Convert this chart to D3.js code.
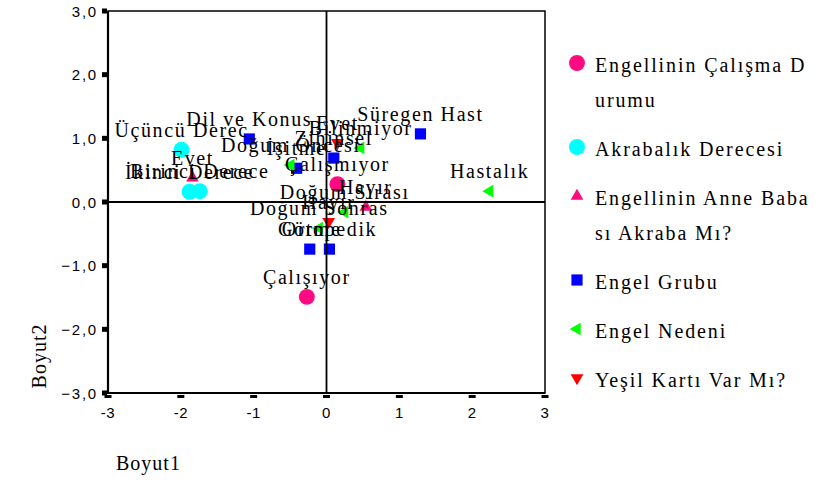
<!DOCTYPE html>
<html>
<head>
<meta charset="utf-8">
<script src="https://cdn.jsdelivr.net/npm/d3@7"></script>
<style>
  html, body { margin: 0; padding: 0; background: #fff; }
  svg { display: block; }
</style>
</head>
<body>
<svg id="chart" width="825" height="482"></svg>
<script>
// ——— Data (object scores, Boyut1 / Boyut2) ———
const calismaLabels = ['Çalışıyor', 'Çalışmıyor'];
const calismaX = [-0.27, 0.15];
const calismaY = [-1.49, 0.28];

const akrabalikLabels = ['Üçüncü Derec', 'İkinci Derece', 'Birinci Derece'];
const akrabalikX = [-1.99, -1.88, -1.74];
const akrabalikY = [0.82, 0.16, 0.17];

const anneBabaLabels = ['Evet', 'Hayır'];
const anneBabaX = [-1.84, 0.54];
const anneBabaY = [0.38, -0.08];

const grupLabels = ['Dil ve Konus', 'İşitme', 'Zihinsel', 'Süregen Hast', 'Görme', 'Ortopedik'];
const grupX = [-1.06, -0.41, 0.10, 1.29, -0.23, 0.04];
const grupY = [0.99, 0.53, 0.69, 1.07, -0.74, -0.74];

const nedenLabels = ['Doğum Öncesi', 'Bilinmiyor', 'Doğum Sırası', 'Doğum Sonras', 'Hastalık'];
const nedenX = [-0.49, 0.47, 0.25, -0.10, 2.24];
const nedenY = [0.58, 0.85, -0.16, -0.41, 0.17];

const yesilLabels = ['Evet', 'Hayır'];
const yesilX = [0.15, 0.03];
const yesilY = [0.93, -0.31];

const xTicks = [-3, -2, -1, 0, 1, 2, 3];
const yTicks = [-3, -2, -1, 0, 1, 2, 3];

const legendLines = [
    ['Engellinin Çalışma D', 'urumu'],
    ['Akrabalık Derecesi'],
    ['Engellinin Anne Baba', 'sı Akraba Mı?'],
    ['Engel Grubu'],
    ['Engel Nedeni'],
    ['Yeşil Kartı Var Mı?']
];

// ——— Series setup ———
const series = [
    { labels: calismaLabels, xs: calismaX, ys: calismaY, shape: 'circle', color: '#ff0a80' },
    { labels: akrabalikLabels, xs: akrabalikX, ys: akrabalikY, shape: 'circle', color: '#00ffff' },
    { labels: anneBabaLabels, xs: anneBabaX, ys: anneBabaY, shape: 'up', color: '#ff0a80' },
    { labels: grupLabels, xs: grupX, ys: grupY, shape: 'square', color: '#0000ff' },
    { labels: nedenLabels, xs: nedenX, ys: nedenY, shape: 'left', color: '#00ff00' },
    { labels: yesilLabels, xs: yesilX, ys: yesilY, shape: 'down', color: '#ff0000' }
];

const svg = d3.select('#chart');
const serif = '"Liberation Serif", "Times New Roman", serif';
const sans = '"Liberation Sans", Arial, sans-serif';

const x = d3.scaleLinear().domain([-3, 3]).range([108, 545]);
const y = d3.scaleLinear().domain([-3, 3]).range([393, 11]);

function symbolPath(shape) {
    if (shape === 'circle') return d3.symbol(d3.symbolCircle, 200)();
    if (shape === 'square') return d3.symbol(d3.symbolSquare, 125)();
    return d3.symbol(d3.symbolTriangle, 70)();
}
function symbolRotate(shape) {
    if (shape === 'down') return 180;
    if (shape === 'left') return -90;
    return 0;
}

// ——— Frame ———
svg.append('rect')
    .attr('x', x(-3)).attr('y', y(3))
    .attr('width', x(3) - x(-3)).attr('height', y(-3) - y(3))
    .attr('fill', 'none').attr('stroke', '#000').attr('stroke-width', 1.5);

// ——— Markers ———
const points = series.flatMap(s => s.labels.map((lab, i) => ({
    label: lab, vx: s.xs[i], vy: s.ys[i], shape: s.shape, color: s.color
})));

svg.append('g')
    .selectAll('path')
    .data(points)
    .join('path')
    .attr('d', d => symbolPath(d.shape))
    .attr('transform', d => `translate(${x(d.vx)},${y(d.vy)}) rotate(${symbolRotate(d.shape)})`)
    .attr('fill', d => d.color);

// ——— Reference lines at 0 ———
svg.append('line')
    .attr('x1', x(0)).attr('x2', x(0)).attr('y1', y(3)).attr('y2', y(-3))
    .attr('stroke', '#000').attr('stroke-width', 1.8);
svg.append('line')
    .attr('x1', x(-3)).attr('x2', x(3)).attr('y1', y(0)).attr('y2', y(0))
    .attr('stroke', '#000').attr('stroke-width', 1.8);

// ——— Axes ———
svg.append('line')
    .attr('x1', x(-3)).attr('x2', x(-3)).attr('y1', y(3)).attr('y2', y(-3) + 1)
    .attr('stroke', '#000').attr('stroke-width', 2.2);
svg.append('line')
    .attr('x1', x(-3) - 1).attr('x2', x(3)).attr('y1', y(-3)).attr('y2', y(-3))
    .attr('stroke', '#000').attr('stroke-width', 2.2);

// y ticks
const yt = svg.append('g');
yt.selectAll('rect')
    .data(yTicks)
    .join('rect')
    .attr('x', x(-3) - 6).attr('y', d => y(d) - 2.5)
    .attr('width', 5).attr('height', 5)
    .attr('fill', '#000');
yt.selectAll('text')
    .data(yTicks)
    .join('text')
    .attr('x', x(-3) - 10).attr('y', d => y(d) + 5.5)
    .attr('text-anchor', 'end')
    .attr('font-family', sans).attr('font-size', '15px')
    .attr('letter-spacing', '1.8px')
    .text(d => d3.format('.1f')(d).replace('.', ','));

// x ticks
const xt = svg.append('g');
xt.selectAll('rect')
    .data(xTicks)
    .join('rect')
    .attr('x', d => x(d) - 3.5).attr('y', y(-3) + 2)
    .attr('width', 7).attr('height', 3)
    .attr('fill', '#000');
xt.selectAll('text')
    .data(xTicks)
    .join('text')
    .attr('x', d => x(d)).attr('y', y(-3) + 25)
    .attr('text-anchor', 'middle')
    .attr('font-family', sans).attr('font-size', '15px')
    .attr('letter-spacing', '0.5px')
    .text(d => d);

// axis titles
svg.append('text')
    .attr('transform', 'translate(46,356) rotate(-90)')
    .attr('text-anchor', 'middle')
    .attr('font-family', serif).attr('font-size', '20px')
    .attr('letter-spacing', '1px')
    .text('Boyut2');
svg.append('text')
    .attr('x', 116).attr('y', 470)
    .attr('font-family', serif).attr('font-size', '20px')
    .attr('letter-spacing', '1px')
    .text('Boyut1');

// ——— Point labels ———
svg.append('g')
    .selectAll('text')
    .data(points)
    .join('text')
    .attr('x', d => x(d.vx))
    .attr('y', d => y(d.vy) - 13)
    .attr('text-anchor', 'middle')
    .attr('font-family', serif).attr('font-size', '20px')
    .attr('letter-spacing', '1.6px')
    .text(d => d.label);

// ——— Legend ———
const legend = svg.append('g');
let base = 72;
legendLines.forEach((lines, i) => {
    const s = series[i];
    legend.append('path')
        .attr('d', symbolPath(s.shape))
        .attr('transform', `translate(577,${base - 9}) rotate(${symbolRotate(s.shape)})`)
        .attr('fill', s.color);
    lines.forEach((ln, j) => {
        legend.append('text')
            .attr('x', 595).attr('y', base + j * 35)
            .attr('font-family', serif).attr('font-size', '20px')
            .attr('letter-spacing', '1.9px')
            .text(ln);
    });
    base += (lines.length - 1) * 35 + 49;
});
</script>
</body>
</html>
